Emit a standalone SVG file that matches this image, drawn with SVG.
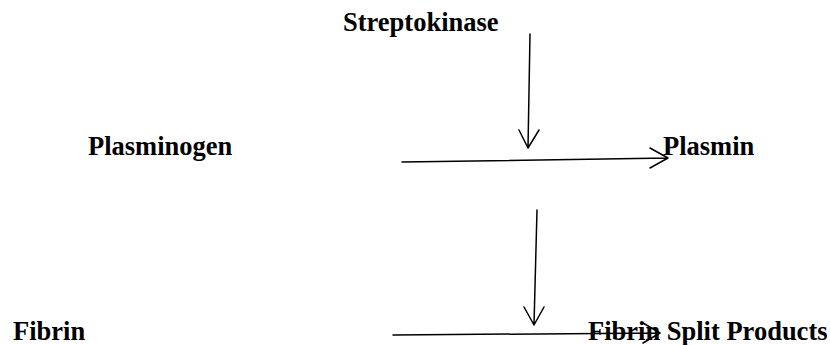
<svg xmlns="http://www.w3.org/2000/svg" width="830" height="345" viewBox="0 0 830 345">
  <style>
    .label { font-family: "Liberation Serif", "Times New Roman", serif; font-size: 26.5px; font-weight: bold; fill: #000; }
    .conn { fill: none; stroke: #000; stroke-width: 1.5; stroke-linecap: round; stroke-linejoin: round; }
  </style>
  <rect width="830" height="345" fill="#fff"/>

  <g id="streptokinase"><text class="label" x="343" y="31">Streptokinase</text></g>
  <g id="plasminogen"><text class="label" x="88" y="155">Plasminogen</text></g>
  <g id="plasmin"><text class="label" x="663" y="155">Plasmin</text></g>
  <g id="fibrin"><text class="label" x="13" y="340">Fibrin</text></g>
  <g id="fibrin-split-products"><text class="label" x="588" y="340">Fibrin Split Products</text></g>

  <g id="connectors">
    <!-- streptokinase acts on the plasminogen conversion -->
    <path class="conn" d="M530 34 L528 148 M519 130 L528 148 L539 130"/>
    <!-- plasminogen to plasmin -->
    <path class="conn" d="M402 162 L668 158 M650 148 L668 158 L650 168"/>
    <!-- plasmin acts on fibrin breakdown -->
    <path class="conn" d="M537 210 L534 325 M524 307 L534 325 L544 307"/>
    <!-- fibrin to split products -->
    <path class="conn" d="M393 335 L660 333 M643 323 L660 333 L643 343"/>
  </g>
</svg>
